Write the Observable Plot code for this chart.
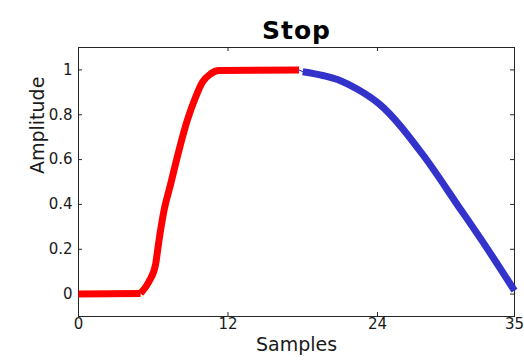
<!DOCTYPE html>
<html>
<head>
<meta charset="utf-8">
<script src="https://cdn.jsdelivr.net/npm/d3@7"></script>
<script src="https://cdn.jsdelivr.net/npm/@observablehq/plot@0.6"></script>
<style>
  html, body { margin: 0; padding: 0; background: #fff; }
  #chart svg { display: block; font-family: "DejaVu Sans", "Liberation Sans", sans-serif; }
</style>
</head>
<body>
<div id="chart"></div>
<script>
const title = "Stop";
const xLabel = "Samples";
const yLabel = "Amplitude";
const xTicks = [0, 12, 24, 35];
const yTicks = [0, 0.2, 0.4, 0.6, 0.8, 1];
const yTickLabels = ["0", "0.2", "0.4", "0.6", "0.8", "1"];

const redX = [0, 4.98, 5.65, 6.18, 6.45, 6.85, 7.39, 8.05, 8.72, 9.39, 9.93, 10.6, 11.26, 17.7];
const redY = [0, 0.003, 0.055, 0.13, 0.235, 0.369, 0.489, 0.638, 0.773, 0.877, 0.944, 0.982, 0.997, 1.0];
const blueX = [18.0, 19.7, 21.03, 22.37, 24.1, 27.72, 30.4, 32.8, 35];
const blueY = [0.992, 0.974, 0.952, 0.915, 0.85, 0.616, 0.40, 0.204, 0.015];

const red = redX.map((x, i) => ({x, y: redY[i]}));
const blue = blueX.map((x, i) => ({x, y: blueY[i]}));
const all = red.concat(blue);

const W = 524, H = 361;
const mT = 47, mB = 45, mL = 78, mR = 10;
const fh = H - mT - mB, fw = W - mL - mR;
const tk = 4;
const axisColor = "#262626";
const textColor = "#1a1a1a";

const chart = Plot.plot({
  width: W, height: H,
  marginTop: mT, marginBottom: mB, marginLeft: mL, marginRight: mR,
  x: {domain: [0, 35], axis: null},
  y: {domain: [-0.1, 1.1], axis: null},
  marks: [
    Plot.frame({stroke: axisColor, strokeWidth: 1}),
    Plot.tickX(xTicks, {x: d => d, insetTop: fh - tk, stroke: axisColor}),
    Plot.tickX(xTicks, {x: d => d, insetBottom: fh - tk, stroke: axisColor}),
    Plot.tickY(yTicks, {y: d => d, insetRight: fw - tk, stroke: axisColor}),
    Plot.tickY(yTicks, {y: d => d, insetLeft: fw - tk, stroke: axisColor}),
    Plot.text(xTicks, {x: d => d, frameAnchor: "bottom", dy: 12, text: d => String(d), fontSize: 15, fill: textColor}),
    Plot.text(yTicks, {y: d => d, frameAnchor: "left", dx: -6, textAnchor: "end", text: (d, i) => yTickLabels[i], fontSize: 15, fill: textColor}),
    Plot.text([xLabel], {frameAnchor: "bottom", dy: 34, fontSize: 19, fill: textColor}),
    Plot.text([yLabel], {frameAnchor: "left", dx: -41, dy: -8, rotate: -90, fontSize: 19, fill: textColor}),
    Plot.text([title], {frameAnchor: "top", dy: -26, fontSize: 25, fontWeight: "bold", fill: "#000"}),
    Plot.line(all, {x: "x", y: "y", stroke: "#0000ff", strokeWidth: 1}),
    Plot.line(red.slice(0, 2), {x: "x", y: "y", stroke: "#ff0000", strokeWidth: 7, strokeLinecap: "butt"}),
    Plot.line(red.slice(1), {x: "x", y: "y", curve: "monotone-x", stroke: "#ff0000", strokeWidth: 7, strokeLinecap: "butt", strokeLinejoin: "round"}),
    Plot.line(blue, {x: "x", y: "y", curve: "monotone-x", stroke: "#3333cc", strokeWidth: 7, strokeLinecap: "butt", strokeLinejoin: "round"})
  ]
});
document.getElementById("chart").appendChild(chart);
// widen the title slightly like the reference rendering
d3.select(chart).selectAll("text").filter(function() { return this.textContent === title; })
  .attr("letter-spacing", "1px");
</script>
</body>
</html>
